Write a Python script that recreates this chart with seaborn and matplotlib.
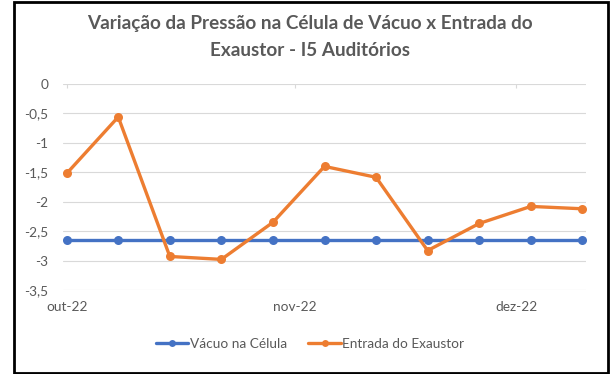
import matplotlib
matplotlib.use("Agg")
import matplotlib.pyplot as plt
from matplotlib.patches import Rectangle
from matplotlib.lines import Line2D
import seaborn as sns
import pandas as pd

# Weekly readings
dates = pd.date_range("2022-10-01", periods=11, freq="7D")
vacuo_celula = [-2.65] * 11
entrada_exaustor = [-1.52, -0.56, -2.93, -2.98, -2.35, -1.40, -1.585, -2.83, -2.37, -2.08, -2.12]
serie_names = ["Vácuo na Célula", "Entrada do Exaustor"]
y_ticks = [0, -0.5, -1, -1.5, -2, -2.5, -3, -3.5]
month_labels = ["out-22", "nov-22", "dez-22"]
month_starts = pd.to_datetime(["2022-10-01", "2022-11-01", "2022-12-01"])

df = pd.DataFrame({
    "data": list(dates) * 2,
    "valor": vacuo_celula + entrada_exaustor,
    "serie": [serie_names[0]] * 11 + [serie_names[1]] * 11,
})

sns.set_theme(style="white")
plt.rcParams["font.family"] = ["Lato", "DejaVu Sans"]

gray = "#595959"
palette = {serie_names[0]: "#4472C4", serie_names[1]: "#ED7D31"}
label_size = 9.8

fig = plt.figure(figsize=(6.11, 3.74), dpi=100)
ax = fig.add_axes([63 / 611, 1 - 290 / 374, (586 - 63) / 611, (290 - 84) / 374])

sns.lineplot(data=df, x="data", y="valor", hue="serie", palette=palette,
             marker="o", markersize=6.5, markeredgewidth=0, linewidth=2.4,
             ax=ax, legend=False, zorder=3)

half_day = pd.Timedelta(hours=12)
ax.set_xlim(dates[0] - half_day, dates[-1] + half_day)
ax.set_ylim(-3.5, 0)
ax.set_yticks(y_ticks)
ax.set_yticklabels([("%g" % v).replace(".", ",") for v in y_ticks])
ax.set_xticks(month_starts)
ax.set_xticklabels(month_labels)
ax.grid(axis="y", color="#D9D9D9", linewidth=0.8)
ax.grid(axis="x", visible=False)
for s in ax.spines.values():
    s.set_visible(False)
ax.tick_params(axis="both", length=0, colors=gray, labelsize=label_size)
ax.tick_params(axis="y", pad=10.5)
ax.tick_params(axis="x", pad=8)
ax.set_xlabel("")
ax.set_ylabel("")

# Category axis sits on the zero line with small ticks below it
top = ax.secondary_xaxis("top")
top.set_xticks(month_starts)
top.set_xticklabels([])
top.tick_params(direction="in", length=3, color="#D9D9D9", width=0.8)
top.spines["top"].set_visible(False)

fig.text(310 / 611, 1 - 24 / 374,
         "Variação da Pressão na Célula de Vácuo x Entrada do",
         ha="center", va="center", fontsize=13.6, fontweight="bold", color=gray)
fig.text(310 / 611, 1 - 51 / 374, "Exaustor - I5 Auditórios",
         ha="center", va="center", fontsize=13.6, fontweight="bold", color=gray)

handles = [Line2D([], [], color=palette[n], marker="o", markersize=5,
                  markeredgewidth=0, linewidth=2.4) for n in serie_names]
fig.legend(handles, serie_names, loc="center", bbox_to_anchor=(310 / 611, 1 - 344 / 374),
           ncol=2, frameon=False, fontsize=label_size, labelcolor=gray,
           handlelength=2.4, handletextpad=0.1, columnspacing=1.6)

# Chart frame
fig.add_artist(Rectangle((13.5 / 611, 2 / 374), (607.5 - 13.5) / 611, (372 - 2) / 374,
                         transform=fig.transFigure, fill=False,
                         edgecolor="#D9D9D9", linewidth=0.8))
fig.add_artist(Rectangle((13.5 / 611, 1 / 374), (607.5 - 13.5) / 611, (372.5 - 1) / 374,
                         transform=fig.transFigure, fill=False,
                         edgecolor="black", linewidth=2))

fig.savefig("out.png", dpi=100, facecolor="white")
